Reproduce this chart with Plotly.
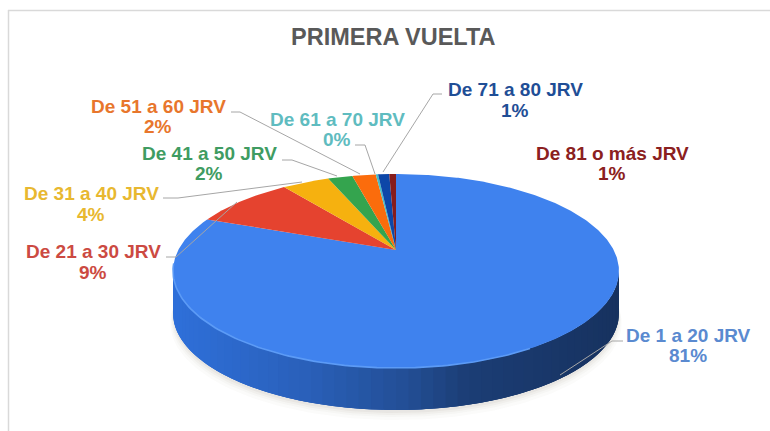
import numpy as np
import plotly.graph_objects as go

# ---- data ----
TITLE = "PRIMERA VUELTA"
categories = ["De 1 a 20 JRV", "De 21 a 30 JRV", "De 31 a 40 JRV", "De 41 a 50 JRV",
              "De 51 a 60 JRV", "De 61 a 70 JRV", "De 71 a 80 JRV", "De 81 o más JRV"]
values = [80.8, 8.9, 4.2, 2.2, 2.1, 0.2, 1.0, 0.6]
slice_colors = ["#3f82ee", "#e5432f", "#f6b10f", "#34a44e", "#fb6c0c", "#46bdc6", "#0d47a8", "#861c1c"]
text_colors = ["#5a8ad0", "#cc4a42", "#e8b830", "#3f9c62", "#e8762c", "#5fbcc0", "#1f4e96", "#8b2020"]

# ---- layout of the labels, in pixels of the 770x431 picture ----
label_x = [688, 93, 91, 209, 158, 337, 515, 612]
label_y1 = [335, 251, 193, 153, 106, 119, 89, 153]
label_y2 = [355, 272, 214, 173, 126, 139, 110, 173]
leaders = [
    [(623, 341), (612, 341), (560, 375)],
    [(166, 257), (176, 257), (237, 202)],
    [(163, 198), (178, 198), (302, 182)],
    [(282, 160), (292, 160), (337, 176)],
    [(231, 112), (240, 112), (360, 174)],
    [(355, 145), (365, 145), (375, 174)],
    [(442, 94), (433, 94), (383, 172)],
]

# ---- perspective disc geometry ----
CX, CY = 396, 250
A, B, K = 217.7, 92.45, 0.2165
DEPTH = 42


def project(theta):
    X, Y = np.sin(theta), np.cos(theta)
    d = 1 + K * Y
    return CX + A * X / d, CY - B * Y / d


def lerp_color(x):
    stops = [(173, (47, 112, 218)), (300, (42, 96, 186)), (400, (35, 79, 150)),
             (460, (28, 62, 118)), (620, (23, 50, 95))]
    xs = [s[0] for s in stops]
    return "rgb(%d,%d,%d)" % tuple(int(np.interp(x, xs, [s[1][i] for s in stops])) for i in range(3))


fig = go.Figure()


def poly(xs, ys, color, name=None, line=0.0):
    fig.add_trace(go.Scatter(
        x=xs, y=ys, mode="lines", fill="toself", fillcolor=color,
        line=dict(color=color, width=line), showlegend=False,
        hoverinfo="text" if name else "skip", text=name, name=name or ""))


# soft shadow under the disc
all_t = np.linspace(0, 2 * np.pi, 241)
px, py = project(all_t)
for off, grow, alpha in [(52, 1.012, 0.025), (49, 1.008, 0.03), (47, 1.004, 0.04), (45, 1.0, 0.05)]:
    poly(396 + (px - 396) * grow, py + off, "rgba(90,80,60,%.3f)" % alpha)

# side wall: overlapping strips, painted from the left edge to the right edge
edges = np.linspace(np.radians(257.5), np.radians(102.5), 61)
for j in range(len(edges) - 1):
    stop = edges[j + 3] if j + 3 < len(edges) else edges[-1]
    t = np.linspace(edges[j], stop, 8)
    x, y = project(t)
    poly(np.r_[x, x[::-1], x[0]], np.r_[y, y[::-1] + DEPTH, y[0]], lerp_color(x[0]))

# slices, clockwise from 12 o'clock
total = sum(values)
cum = np.cumsum([0] + values) / total * 2 * np.pi
for i, cat in enumerate(categories):
    n = max(3, int((cum[i + 1] - cum[i]) / 0.01))
    t = np.linspace(cum[i], cum[i + 1], n)
    x, y = project(t)
    poly(np.r_[CX, x, CX], np.r_[CY, y, CY], slice_colors[i], name=cat)

# lighter rim on the front edge of the disc
rim = np.linspace(np.radians(150), np.radians(262), 100)
rx, ry = project(rim)
fig.add_trace(go.Scatter(x=rx, y=ry, mode="lines", line=dict(color="#5c9bf6", width=1.6),
                         showlegend=False, hoverinfo="skip"))

# leader lines
shapes = []
for pts in leaders:
    path = "M " + " L ".join(f"{p[0]} {p[1]}" for p in pts)
    shapes.append(dict(type="path", path=path, xref="x", yref="y",
                       line=dict(color="#a6a6a6", width=1)))
# chart frame
shapes.append(dict(type="line", xref="x", yref="y", x0=8, y0=10.5, x1=770, y1=10.5,
                   line=dict(color="#d9d9d9", width=1.5)))
shapes.append(dict(type="line", xref="x", yref="y", x0=8.5, y0=10, x1=8.5, y1=431,
                   line=dict(color="#d9d9d9", width=1.5)))

# labels
annotations = [dict(x=393, y=37, xref="x", yref="y", text=f"<b>{TITLE}</b>", showarrow=False,
                    font=dict(family="Liberation Sans", size=23.5, color="#595959"),
                    xanchor="center", yanchor="middle")]
for i, cat in enumerate(categories):
    pct = f"{values[i] / total * 100:.0f}%"
    for txt, yy in ((cat, label_y1[i]), (pct, label_y2[i])):
        annotations.append(dict(x=label_x[i], y=yy, xref="x", yref="y", text=f"<b>{txt}</b>",
                                showarrow=False, xanchor="center", yanchor="middle",
                                font=dict(family="Liberation Sans", size=19, color=text_colors[i])))

fig.update_layout(
    width=770, height=431, margin=dict(l=0, r=0, t=0, b=0),
    paper_bgcolor="white", plot_bgcolor="white", showlegend=False,
    xaxis=dict(range=[0, 770], visible=False, fixedrange=True),
    yaxis=dict(range=[431, 0], visible=False, fixedrange=True),
    shapes=shapes, annotations=annotations,
)
fig.write_html("out.html", config={"displayModeBar": False},
               post_script="document.body.style.margin='0';document.documentElement.style.overflow='hidden';")
